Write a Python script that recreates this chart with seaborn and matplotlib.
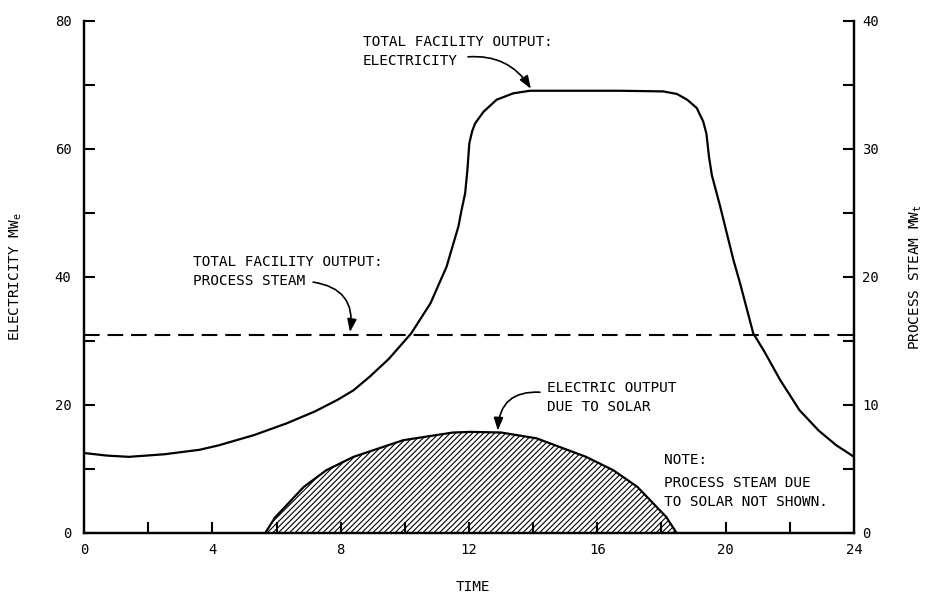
import matplotlib
matplotlib.use("Agg")
import matplotlib.pyplot as plt
from matplotlib.ticker import MultipleLocator
import seaborn as sns

# Total facility electric output over the day (hours, MWe)
hours_elec = [0.0, 0.7, 1.4, 2.5, 3.6, 4.2, 5.3, 6.3, 7.2, 7.9, 8.4, 8.9, 9.5,
              10.2, 10.8, 11.3, 11.67, 11.77, 11.88, 11.95, 12.01, 12.1, 12.19,
              12.45, 12.86, 13.38, 13.9, 15.0, 16.7, 18.05, 18.48, 18.8, 19.1,
              19.3, 19.4, 19.48, 19.57, 19.83, 20.24, 20.45, 20.86, 21.2, 21.7,
              22.3, 22.9, 23.45, 24.0]
elec_mwe = [12.5, 12.1, 11.9, 12.3, 13.0, 13.7, 15.3, 17.1, 19.0, 20.8, 22.3,
            24.4, 27.2, 31.2, 35.9, 41.6, 47.9, 50.5, 53.1, 56.7, 60.9, 62.8,
            64.0, 65.8, 67.7, 68.7, 69.1, 69.1, 69.1, 69.0, 68.6, 67.7, 66.4,
            64.3, 62.4, 58.8, 55.9, 51.0, 42.7, 39.0, 31.2, 28.4, 23.9, 19.2,
            16.0, 13.7, 11.9]

# Electric output attributable to solar (hours, MWe)
hours_solar = [5.65, 5.95, 6.85, 7.55, 8.4, 9.95, 11.5, 12.05, 13.0, 14.1,
               15.65, 16.5, 17.25, 18.15, 18.47]
solar_mwe = [0.0, 2.4, 7.2, 9.8, 11.9, 14.5, 15.7, 15.8, 15.7, 14.8, 11.9, 9.8,
             7.2, 2.5, 0.0]

# Total facility process steam (hours, MWt)
hours_steam = [0.0, 24.0]
steam_mwt = [15.5, 15.5]

x_ticks = [0, 4, 8, 12, 16, 20, 24]
left_ticks = [0, 20, 40, 60, 80]
right_ticks = [0, 10, 20, 30, 40]

sns.set_style("ticks")
plt.rcParams["font.family"] = ["DejaVu Sans Mono"]
plt.rcParams["mathtext.default"] = "regular"
plt.rcParams["hatch.linewidth"] = 0.8
plt.rcParams["text.color"] = "black"
plt.rcParams["axes.labelcolor"] = "black"

FS = 10.4
fig = plt.figure(figsize=(9.27, 5.93), dpi=100)
ax = fig.add_axes([84 / 927, 60 / 593, 770 / 927, 512 / 593])
ax2 = ax.twinx()

# hatched solar contribution
ax.fill_between(hours_solar, solar_mwe, 0, facecolor="none", edgecolor="black",
                hatch="//////", linewidth=0)
sns.lineplot(x=hours_solar, y=solar_mwe, ax=ax, color="black", lw=1.6,
             estimator=None, sort=False)
sns.lineplot(x=hours_elec, y=elec_mwe, ax=ax, color="black", lw=1.6,
             estimator=None, sort=False)
sns.lineplot(x=hours_steam, y=steam_mwt, ax=ax2, color="black", lw=1.5,
             estimator=None, sort=False, linestyle=(0, (7.5, 3.8)))

ax.set_xlim(0, 24)
ax.set_ylim(0, 80)
ax2.set_ylim(0, 40)

for a in (ax, ax2):
    a.spines["top"].set_visible(False)
    for s in ("left", "right", "bottom"):
        a.spines[s].set_linewidth(1.6)
        a.spines[s].set_color("black")

ax.set_xticks(x_ticks)
ax.xaxis.set_minor_locator(MultipleLocator(2))
ax.set_yticks(left_ticks)
ax.yaxis.set_minor_locator(MultipleLocator(10))
ax2.set_yticks(right_ticks)
ax2.yaxis.set_minor_locator(MultipleLocator(5))

ax.tick_params(which="both", direction="in", length=8, width=1.5,
               colors="black", labelsize=10)
ax.tick_params(axis="x", pad=7)
ax.tick_params(axis="y", pad=9, right=False)
ax2.tick_params(which="both", direction="in", length=8, width=1.5,
                colors="black", labelsize=10, pad=6)

ax.set_xlabel("TIME", fontsize=FS)
ax.xaxis.set_label_coords(0.505, -0.092)
ax.set_ylabel("ELECTRICITY MW$_e$", fontsize=FS)
ax.yaxis.set_label_coords(-0.078, 0.5)
ax2.set_ylabel("PROCESS STEAM MW$_t$", fontsize=FS)
ax2.yaxis.set_label_coords(1.069, 0.5)

LS = 1.45
ax.text(8.70, 77.8, "TOTAL FACILITY OUTPUT:\nELECTRICITY", fontsize=FS,
        ha="left", va="top", linespacing=LS)
ax.text(3.40, 43.4, "TOTAL FACILITY OUTPUT:\nPROCESS STEAM", fontsize=FS,
        ha="left", va="top", linespacing=LS)
ax.text(14.43, 23.75, "ELECTRIC OUTPUT\nDUE TO SOLAR", fontsize=FS,
        ha="left", va="top", linespacing=LS)
ax.text(18.08, 12.5, "NOTE:", fontsize=FS, ha="left", va="top")
ax.text(18.08, 8.9, "PROCESS STEAM DUE\nTO SOLAR NOT SHOWN.", fontsize=FS,
        ha="left", va="top", linespacing=LS)

arrow = dict(arrowstyle="-|>,head_length=0.55,head_width=0.2", color="black",
             lw=1.2, shrinkA=0, shrinkB=0, mutation_scale=14)
ax.annotate("", xy=(13.93, 69.4), xytext=(11.97, 74.4),
            arrowprops=dict(arrow, connectionstyle="arc3,rad=-0.3"))
ax.annotate("", xy=(8.29, 31.4), xytext=(7.14, 39.2),
            arrowprops=dict(arrow, connectionstyle="arc3,rad=-0.5"))
ax.annotate("", xy=(12.9, 16.0), xytext=(14.21, 22.0),
            arrowprops=dict(arrow, connectionstyle="arc3,rad=0.5"))

fig.savefig("out.png", dpi=100)
